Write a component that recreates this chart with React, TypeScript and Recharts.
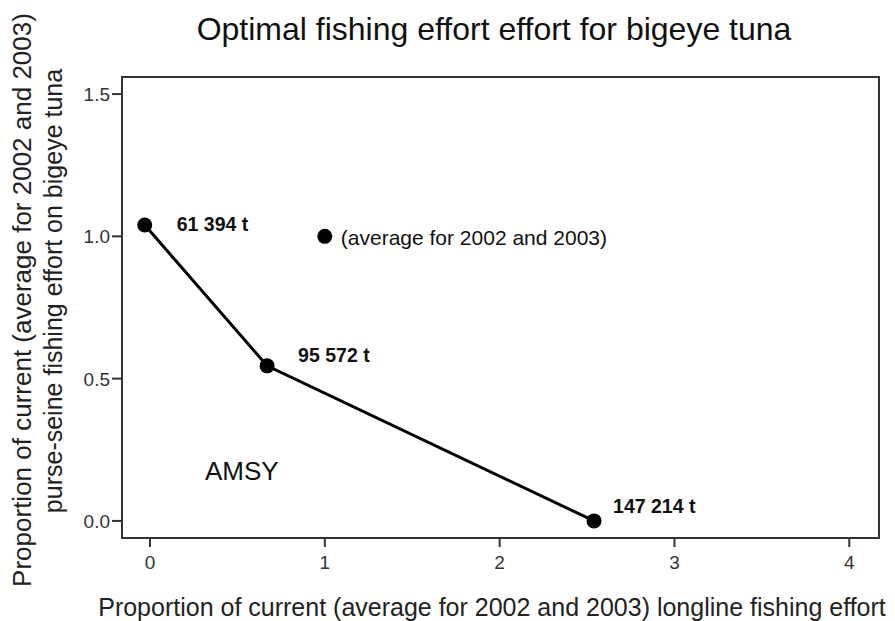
import React from 'react';
import {
  ScatterChart,
  Scatter,
  XAxis,
  YAxis,
  ReferenceArea,
  ReferenceDot,
  Customized,
} from 'recharts';

// optimal effort combinations (AMSY curve)
const longlineEffort = [-0.03, 0.67, 2.54];
const purseSeineEffort = [1.04, 0.545, 0];
const catchLabels = ['61 394 t', '95 572 t', '147 214 t'];

// current effort reference point
const currentLongline = [1];
const currentPurseSeine = [1];
const currentLabels = ['(average for 2002 and 2003)'];

const xTicks = [0, 1, 2, 3, 4];
const yTicks = [0, 0.5, 1, 1.5];

const FONT = '"Liberation Sans", Arial, Helvetica, sans-serif';
const X_DOMAIN: [number, number] = [-0.16, 4.17];
const Y_DOMAIN: [number, number] = [-0.06, 1.56];

const curveData = longlineEffort.map((x, i) => ({
  x,
  y: purseSeineEffort[i],
  label: catchLabels[i],
}));

const currentData = currentLongline.map((x, i) => ({
  x,
  y: currentPurseSeine[i],
  label: currentLabels[i],
}));

// label offsets from each dot centre (text start, baseline)
const curveLabelOffsets = [
  [32, 6],
  [31, -4],
  [19, -8],
];

const CurveDot = (props: any) => {
  const { cx, cy, index, payload } = props;
  if (cx == null || cy == null) return null;
  const [dx, dy] = curveLabelOffsets[index] || [20, 0];
  return (
    <g>
      <circle cx={cx} cy={cy} r={7.5} fill="#000" />
      <text
        x={cx + dx}
        y={cy + dy}
        fontFamily={FONT}
        fontSize={19.5}
        fontWeight="bold"
        fill="#111"
      >
        {payload.label}
      </text>
    </g>
  );
};

const CurrentDot = (props: any) => {
  const { cx, cy, payload } = props;
  if (cx == null || cy == null) return null;
  return (
    <g>
      <circle cx={cx} cy={cy} r={7.5} fill="#000" />
      <text x={cx + 16} y={cy + 9} fontFamily={FONT} fontSize={21} fill="#111">
        {payload.label}
      </text>
    </g>
  );
};

const XTick = (props: any) => {
  const { x, y, payload } = props;
  return (
    <text x={x} y={y + 14} textAnchor="middle" fontFamily={FONT} fontSize={19} fill="#333">
      {String(payload.value)}
    </text>
  );
};

const YTick = (props: any) => {
  const { x, y, payload } = props;
  return (
    <text x={x + 1} y={y + 7} textAnchor="end" fontFamily={FONT} fontSize={19} fill="#333">
      {Number(payload.value).toFixed(1)}
    </text>
  );
};

const Title = () => (
  <text
    x={494}
    y={39.5}
    textAnchor="middle"
    fontFamily={FONT}
    fontSize={32}
    fill="#111"
  >
    Optimal fishing effort effort for bigeye tuna
  </text>
);

const YTitle = () => (
  <g fontFamily={FONT} fontSize={25} fill="#222">
    <text transform="translate(31, 300) rotate(-90)" textAnchor="middle" fontSize={26}>
      Proportion of current (average for 2002 and 2003)
    </text>
    <text transform="translate(62, 291) rotate(-90)" textAnchor="middle">
      purse-seine fishing effort on bigeye tuna
    </text>
  </g>
);

const XTitle = () => (
  <text
    x={492}
    y={616}
    textAnchor="middle"
    fontFamily={FONT}
    fontSize={25}
    fill="#222"
  >
    Proportion of current (average for 2002 and 2003) longline fishing effort
  </text>
);

export default function App() {
  return (
    <div style={{ position: 'absolute', left: 0, top: 0, width: 895, height: 621, background: '#fff' }}>
      <ScatterChart
        width={895}
        height={621}
        margin={{ top: 77, right: 16, bottom: 0, left: 0 }}
      >
        <XAxis
          type="number"
          dataKey="x"
          domain={X_DOMAIN}
          ticks={xTicks}
          allowDataOverflow
          height={83}
          tickSize={9}
          tickMargin={8}
          tick={<XTick />}
          stroke="#333"
          strokeWidth={2}
        />
        <YAxis
          type="number"
          dataKey="y"
          domain={Y_DOMAIN}
          ticks={yTicks}
          allowDataOverflow
          width={122}
          tickSize={10}
          tickMargin={3}
          tick={<YTick />}
          stroke="#333"
          strokeWidth={2}
        />
        <ReferenceArea
          x1={X_DOMAIN[0]}
          x2={X_DOMAIN[1]}
          y1={Y_DOMAIN[0]}
          y2={Y_DOMAIN[1]}
          fill="none"
          fillOpacity={0}
          stroke="#333"
          strokeWidth={2}
          ifOverflow="visible"
        />
        <Scatter
          data={curveData}
          line={{ stroke: '#000', strokeWidth: 3 }}
          lineType="joint"
          shape={CurveDot}
          isAnimationActive={false}
        />
        <Scatter data={currentData} shape={CurrentDot} isAnimationActive={false} />
        <ReferenceDot
          x={0.315}
          y={0.144}
          r={1}
          fill="none"
          stroke="none"
          ifOverflow="visible"
          label={(p: any) => (
            <text
              x={p.viewBox.x + 1}
              y={p.viewBox.y + 1}
              fontFamily={FONT}
              fontSize={26}
              fill="#111"
            >
              AMSY
            </text>
          )}
        />
        <Customized component={Title} />
        <Customized component={YTitle} />
        <Customized component={XTitle} />
      </ScatterChart>
    </div>
  );
}
